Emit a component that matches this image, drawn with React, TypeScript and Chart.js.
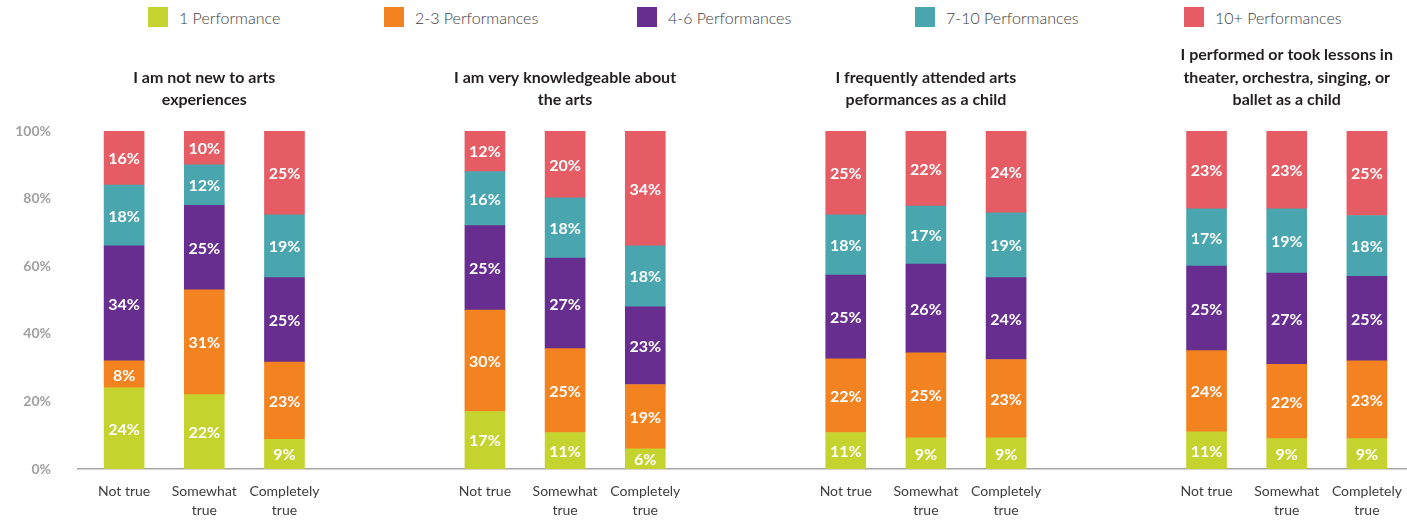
import React, { useEffect, useRef } from "react";
import { Chart, registerables } from "chart.js";

Chart.register(...registerables);

const categories: string[][] = [["Not true"], ["Somewhat", "true"], ["Completely", "true"]];

const groupTitles: string[][] = [
  ["I am not new to arts", "experiences"],
  ["I am very knowledgeable about", "the arts"],
  ["I frequently attended arts", "peformances as a child"],
  ["I performed or took lessons in", "theater, orchestra, singing, or", "ballet as a child"],
];

const seriesNames = ["1 Performance", "2-3 Performances", "4-6 Performances", "7-10 Performances", "10+ Performances"];
const seriesColors = ["#c5d32e", "#f38221", "#672d8f", "#49a6ae", "#e55c65"];

// order per group: Not true, Somewhat true, Completely true
const onePerf = [24, 22, 8.8, 17, 10.8, 6, 10.8, 9.2, 9.2, 11, 9, 9];
const twoThreePerf = [8, 31, 22.8, 30, 24.8, 19, 21.8, 25.2, 23.2, 24, 22, 23];
const fourSixPerf = [34, 25, 25.0, 25, 26.8, 23, 24.8, 26.2, 24.2, 25, 27, 25];
const sevenTenPerf = [18, 12, 18.6, 16, 17.8, 18, 17.8, 17.2, 19.2, 17, 19, 18];
const tenPlusPerf = [16, 10, 24.8, 12, 19.8, 34, 24.8, 22.2, 24.2, 23, 23, 25];

const yTicks = [0, 20, 40, 60, 80, 100];

const seriesValues = [onePerf, twoThreePerf, fourSixPerf, sevenTenPerf, tenPlusPerf];

// slot index of each bar on the x axis (groups separated by empty slots)
const SLOTS_PER_GROUP = 9;
const SLOTS_PER_BAR = 2;
const slotOf = (idx: number) => Math.floor(idx / 3) * SLOTS_PER_GROUP + (idx % 3) * SLOTS_PER_BAR;
const barSlots = onePerf.map((_, i) => slotOf(i));

const FONT = "Lato, 'Noto Sans', sans-serif";

const valueLabelPlugin = {
  id: "valueLabels",
  afterDatasetsDraw(chart: any) {
    const ctx = chart.ctx;
    ctx.save();
    ctx.font = `bold 16px ${FONT}`;
    ctx.fillStyle = "#ffffff";
    ctx.textAlign = "center";
    ctx.textBaseline = "middle";
    chart.data.datasets.forEach((ds: any, di: number) => {
      const meta = chart.getDatasetMeta(di);
      meta.data.forEach((el: any, i: number) => {
        const v = ds.data[i].y;
        const p = el.getProps(["x", "y", "base"], true);
        ctx.fillText(Math.round(v) + "%", p.x, (p.y + p.base) / 2 + 1);
      });
    });
    ctx.restore();
  },
};

const groupTitlePlugin = {
  id: "groupTitles",
  afterDraw(chart: any) {
    const ctx = chart.ctx;
    const xs = chart.scales.x;
    ctx.save();
    ctx.font = `bold 16px ${FONT}`;
    ctx.fillStyle = "#231f20";
    ctx.textAlign = "center";
    ctx.textBaseline = "middle";
    const lineH = 22.5;
    const lastY = 100;
    groupTitles.forEach((lines, g) => {
      const cx = xs.getPixelForValue(slotOf(g * 3 + 1));
      const n = lines.length;
      lines.forEach((t, li) => {
        ctx.fillText(t, cx, lastY - (n - 1 - li) * lineH);
      });
    });
    ctx.restore();
  },
};

export default function App() {
  const canvasRef = useRef<HTMLCanvasElement | null>(null);

  useEffect(() => {
    if (!canvasRef.current) return;
    const chart = new Chart(canvasRef.current, {
      type: "bar",
      data: {
        datasets: seriesNames.map((name, si) => ({
          label: name,
          data: seriesValues[si].map((v, i) => ({ x: barSlots[i], y: v })),
          backgroundColor: seriesColors[si],
          borderWidth: 0,
          barThickness: 40,
        })),
      },
      options: {
        animation: false,
        responsive: true,
        maintainAspectRatio: false,
        layout: { padding: { top: 131, left: 0, right: 0, bottom: 0 } },
        plugins: {
          legend: { display: false },
          tooltip: { enabled: false },
        },
        scales: {
          x: {
            type: "linear",
            stacked: true,
            offset: false,
            grace: 0,
            min: -1.15,
            max: 32,
            grid: { display: false, drawTicks: false },
            border: { display: true, color: "#a6a6a6", width: 1.5 },
            afterBuildTicks(scale: any) {
              scale.ticks = barSlots.map((s) => ({ value: s }));
            },
            afterFit(scale: any) {
              scale.height = 51;
              scale.paddingLeft = 0;
              scale.paddingRight = 0;
            },
            ticks: {
              autoSkip: false,
              maxRotation: 0,
              padding: 13,
              color: "#3d3d3d",
              font: { family: FONT, size: 14, lineHeight: 1.36 },
              callback: (_v: any, index: number) => categories[index % 3],
            },
          },
          y: {
            stacked: true,
            min: 0,
            max: 100,
            grid: { display: false, drawTicks: false },
            border: { display: false },
            afterBuildTicks(scale: any) {
              scale.ticks = yTicks.map((v) => ({ value: v }));
            },
            afterFit(scale: any) {
              scale.width = 78;
            },
            ticks: {
              padding: 27,
              color: "#a0a0a0",
              font: { family: FONT, size: 14, weight: "bold" },
              callback: (v: any) => v + "%",
            },
          },
        },
      },
      plugins: [valueLabelPlugin, groupTitlePlugin],
    } as any);
    return () => chart.destroy();
  }, []);

  const legendLefts = [148, 384, 637, 915, 1184];

  return (
    <div style={{ position: "absolute", left: 0, top: 0, width: 1407, height: 520, background: "#fff" }}>
      <div style={{ position: "absolute", left: 0, top: 0, width: 1407, height: 34 }}>
        {seriesNames.map((name, i) => (
          <div
            key={name}
            style={{
              position: "absolute",
              left: legendLefts[i],
              top: 7,
              display: "flex",
              alignItems: "center",
              height: 20,
              fontFamily: FONT,
              fontWeight: 300,
              fontSize: 16,
              color: "#3d3d3d",
              whiteSpace: "nowrap",
            }}
          >
            <span style={{ display: "inline-block", width: 20, height: 20, background: seriesColors[i], marginRight: 11 }} />
            {name}
          </div>
        ))}
      </div>
      <div style={{ position: "absolute", left: 0, top: 0, width: 1407, height: 520 }}>
        <canvas ref={canvasRef} />
      </div>
    </div>
  );
}
